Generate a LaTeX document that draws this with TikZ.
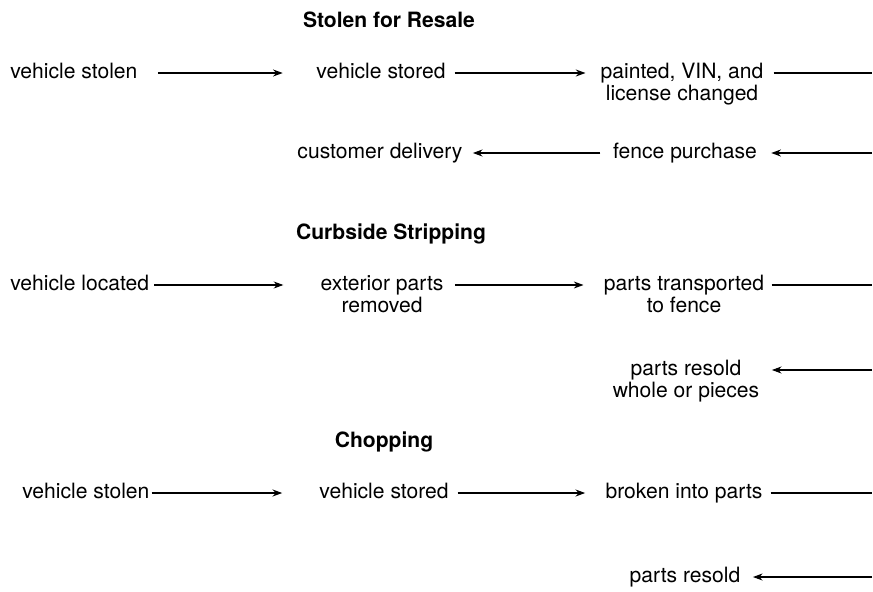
\documentclass[tikz,border=0pt]{standalone}
\usepackage{fontspec}
\setmainfont{TeX Gyre Heros}
\usetikzlibrary{arrows.meta}
\newcommand{\twoline}[2]{\vtop{\halign{\hfil##\hfil\cr#1\cr#2\cr}}}

\begin{document}
\begin{tikzpicture}
[
x=0.2mm, y=-0.2mm,
steptext/.style={inner sep=0pt, text height=8.6pt, text depth=2.5pt,
                 font=\fontsize{12}{12.5}\selectfont},
heading/.style={anchor=base, font=\fontsize{12}{13}\selectfont\bfseries},
flow/.style={-{Stealth[length=5.5pt,width=4pt,inset=1.8pt]}, line width=0.6pt},
plain/.style={line width=0.6pt},
gap/.style 2 args={shorten <=#1, shorten >=#2},
]
\useasboundingbox (0,0) rectangle (873,591);

%Stolen for Resale
\node[heading] (t1) at (389,27) {Stolen for Resale};
\node[steptext, anchor=west] (vs1) at (10,73) {vehicle stolen};	%start
\node[steptext] (st1) at (381,73) {vehicle stored};
\node[steptext] (pv) at (682,73) {\twoline{painted, VIN, and}{license changed}};
\coordinate (r1) at (872,73);
\node[steptext] (cd) at (380,153) {customer delivery};
\node[steptext] (fp) at (685,153) {fence purchase};
\coordinate (r2) at (872,153);

%Curbside Stripping
\node[heading] (t2) at (391,239) {Curbside Stripping};
\node[steptext, anchor=west] (vl) at (10,285) {vehicle located};
\node[steptext] (ep) at (382,285) {\twoline{exterior parts}{removed}};
\node[steptext] (pt) at (684,285) {\twoline{parts transported}{to fence}};
\coordinate (r3) at (872,285);
\node[steptext] (pr1) at (686,370) {\twoline{parts resold}{whole or pieces}};
\coordinate (r4) at (872,370);

%Chopping
\node[heading] (t3) at (384,447) {Chopping};
\node[steptext, anchor=west] (vs2) at (22,493) {vehicle stolen};
\node[steptext] (st2) at (384,493) {vehicle stored};
\node[steptext] (bp) at (684,493) {broken into parts};
\coordinate (r5) at (872,493);
\node[steptext] (pr2) at (685,577) {parts resold};
\coordinate (r6) at (872,577);

%connections
%row 1
\draw[flow, gap={11.4pt}{19pt}] (vs1) -- (st1);
\draw[flow, gap={5pt}{8.5pt}] (st1) -- (pv);
\draw[plain, gap={5.7pt}{0pt}] (pv) -- (r1);
%row 2
\draw[flow, gap={0pt}{8pt}] (r2) -- (fp);
\draw[flow, gap={7pt}{5.7pt}] (fp) -- (cd);
%row 3
\draw[flow, gap={2.8pt}{21pt}] (vl) -- (ep);
\draw[flow, gap={6.3pt}{11.4pt}] (ep) -- (pt);
\draw[plain, gap={4pt}{0pt}] (pt) -- (r3);
%row 4
\draw[flow, gap={0pt}{7pt}] (r4) -- (pr1);
%row 5
\draw[flow, gap={1.1pt}{21pt}] (vs2) -- (st2);
\draw[flow, gap={5pt}{11.4pt}] (st2) -- (bp);
\draw[plain, gap={4.5pt}{0pt}] (bp) -- (r5);
%row 6
\draw[flow, gap={0pt}{7pt}] (r6) -- (pr2);
\end{tikzpicture}
\end{document}
